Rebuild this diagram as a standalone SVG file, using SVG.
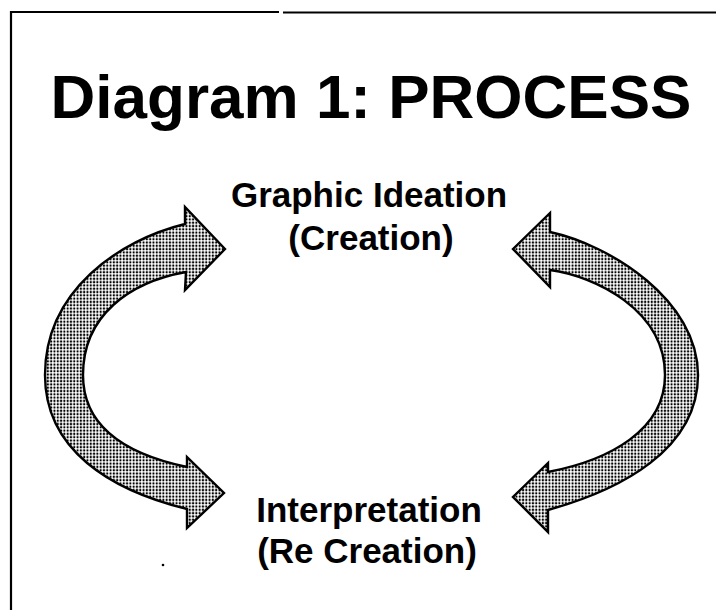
<svg xmlns="http://www.w3.org/2000/svg" width="716" height="610" viewBox="0 0 716 610">
  <style>
    .frame { stroke: #000; stroke-width: 2.2; fill: none; }
    .title { font-family: "Liberation Sans", Arial, sans-serif; font-weight: bold; font-size: 62px; fill: #000; text-anchor: middle; }
    .label { font-family: "Liberation Sans", Arial, sans-serif; font-weight: bold; font-size: 35px; fill: #000; text-anchor: middle; }
    .arrow { fill: url(#dots); stroke: #000; stroke-width: 2.4; stroke-linejoin: miter; }
  </style>
  <defs>
    <pattern id="dots" width="3.3" height="3.3" patternUnits="userSpaceOnUse">
      <rect width="3.3" height="3.3" fill="#fff"/>
      <circle cx="1.65" cy="1.65" r="1.15" fill="#000"/>
    </pattern>
  </defs>
  <rect width="716" height="610" fill="#fff"/>
  <g id="frame">
    <line class="frame" x1="10" y1="12" x2="279" y2="12"/>
    <line class="frame" x1="283" y1="12.5" x2="716" y2="12.5"/>
    <line class="frame" x1="11" y1="11" x2="11" y2="610"/>
  </g>
  <g id="title">
    <text class="title" x="371" y="118">Diagram 1: PROCESS</text>
  </g>
  <g id="node-creation">
    <text class="label" x="369" y="207">Graphic Ideation</text>
    <text class="label" x="371" y="250">(Creation)</text>
  </g>
  <g id="node-recreation">
    <text class="label" x="369" y="522">Interpretation</text>
    <text class="label" x="367" y="563">(Re Creation)</text>
  </g>
  <g id="connectors">
    <path class="arrow" d="M225,249 L185,207 L185,224 C120,240 45,290 45,375 C45,450 110,490 187,509 L187,528 L224,493 L187,457 L187,467 C130,455 83,430 83,375 C83,315 130,282 186,272 L185,290 Z"/>
    <path class="arrow" d="M513,249 L550,213 L550,232 C610,245 698,300 698,375 C698,450 620,490 548,510 L548,532 L513,497 L548,463 L548,472 C610,460 665,430 665,375 C665,310 595,276 550,270 L550,287 Z"/>
  </g>
  <circle cx="163" cy="565" r="1.3" fill="#000"/>
</svg>
